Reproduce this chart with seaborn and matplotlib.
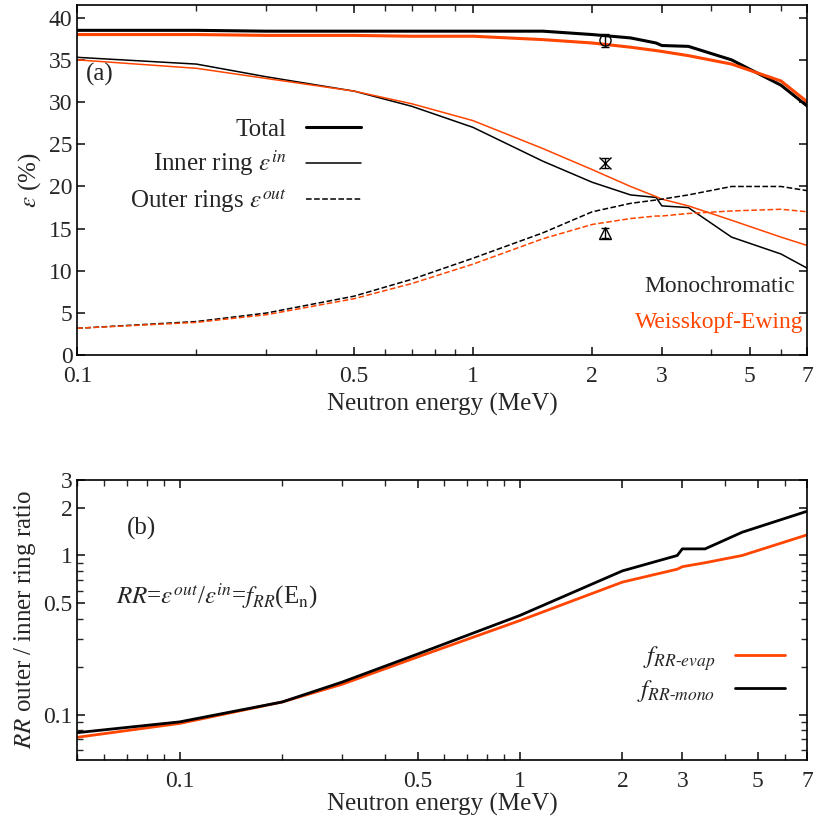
import matplotlib
matplotlib.use("Agg")
import matplotlib.pyplot as plt
import seaborn as sns
import numpy as np
from matplotlib.ticker import FixedLocator, NullFormatter, LogLocator

sns.set_theme(style="ticks", rc={"font.family": "Liberation Serif", "mathtext.fontset": "stix"})
plt.rcParams["font.size"] = 18

ORANGE = "#ff4500"

# panel (a) data
e_a = [0.1, 0.2, 0.3, 0.5, 0.7, 1.0, 1.5, 2.0, 2.5, 2.9, 3.0, 3.5, 4.5, 6.0, 7.0]
tot_mono = [38.5, 38.5, 38.4, 38.4, 38.4, 38.4, 38.4, 38.0, 37.6, 37.0, 36.7, 36.6, 35.0, 32.0, 29.5]
tot_we = [38.0, 38.0, 37.9, 37.9, 37.8, 37.8, 37.4, 37.0, 36.5, 36.1, 36.0, 35.5, 34.5, 32.5, 30.0]
in_mono = [35.3, 34.5, 33.0, 31.3, 29.5, 27.0, 23.0, 20.5, 19.0, 18.7, 17.7, 17.5, 14.0, 12.0, 10.3]
in_we = [35.0, 34.0, 32.8, 31.3, 29.8, 27.8, 24.5, 22.0, 20.0, 18.8, 18.5, 17.7, 16.0, 14.0, 13.0]
out_mono = [3.2, 4.0, 5.0, 7.0, 9.0, 11.5, 14.5, 17.0, 18.0, 18.4, 18.5, 19.0, 20.0, 20.0, 19.5]
out_we = [3.2, 3.9, 4.8, 6.7, 8.5, 10.8, 13.8, 15.5, 16.2, 16.5, 16.5, 16.8, 17.1, 17.3, 17.0]
meas_e = [2.15, 2.15, 2.15]
meas_v = [37.3, 22.8, 14.5]
meas_err = [0.8, 0.6, 0.6]
meas_mk = ["o", "x", "^"]

# panel (b) data
e_b = [0.05, 0.1, 0.2, 0.3, 0.5, 1.0, 2.0, 2.9, 3.0, 3.5, 4.5, 7.0]
rr_mono = [0.077, 0.09, 0.12, 0.16, 0.24, 0.42, 0.8, 1.0, 1.1, 1.1, 1.4, 1.9]
rr_we = [0.072, 0.088, 0.12, 0.155, 0.23, 0.39, 0.68, 0.82, 0.85, 0.9, 1.0, 1.35]

fig = plt.figure(figsize=(8.14, 8.34), dpi=100)
ax1 = fig.add_axes([0.095, 0.574, 0.897, 0.42])
ax2 = fig.add_axes([0.095, 0.089, 0.897, 0.336])

sns.lineplot(x=e_a, y=tot_mono, ax=ax1, color="black", lw=2.2, label="Total")
sns.lineplot(x=e_a, y=tot_we, ax=ax1, color=ORANGE, lw=2.2)
sns.lineplot(x=e_a, y=in_mono, ax=ax1, color="black", lw=1.1, label=r"Inner ring $\varepsilon^{in}$")
sns.lineplot(x=e_a, y=in_we, ax=ax1, color=ORANGE, lw=1.1)
sns.lineplot(x=e_a, y=out_mono, ax=ax1, color="black", lw=1.1, ls="--", label=r"Outer rings $\varepsilon^{out}$")
sns.lineplot(x=e_a, y=out_we, ax=ax1, color=ORANGE, lw=1.1, ls="--")
for x, y, er, m in zip(meas_e, meas_v, meas_err, meas_mk):
    ax1.errorbar(x, y, yerr=er, marker=m, mfc="none", mec="black", color="black", ms=8, capsize=3, lw=1)

ax1.set_xscale("log")
ax1.set_xlim(0.1, 7)
ax1.set_ylim(0, 41.5)
ax1.xaxis.set_major_locator(FixedLocator([0.1, 0.5, 1, 2, 3, 5, 7]))
ax1.set_xticklabels(["0.1", "0.5", "1", "2", "3", "5", "7"])
ax1.xaxis.set_minor_locator(LogLocator(subs=np.arange(2, 10)))
ax1.xaxis.set_minor_formatter(NullFormatter())
ax1.set_yticks(range(0, 41, 5))
ax1.set_xlabel("Neutron energy (MeV)", fontsize=18)
ax1.set_ylabel(r"$\varepsilon$ (%)", fontsize=18)
ax1.text(0.105, 32.5, "(a)", fontsize=18)
ax1.text(4.2, 7.5, "Monochromatic", fontsize=17, ha="center")
ax1.text(4.2, 3.2, "Weisskopf-Ewing", fontsize=17, ha="center", color=ORANGE)
leg = ax1.legend(loc="upper right", bbox_to_anchor=(0.42, 0.74), frameon=False, fontsize=18,
                 markerfirst=False, handlelength=2.2, labelspacing=0.3)
leg._legend_box.align = "right"

sns.lineplot(x=e_b, y=rr_we, ax=ax2, color=ORANGE, lw=2, label=r"$f_{RR\text{-}evap}$")
sns.lineplot(x=e_b, y=rr_mono, ax=ax2, color="black", lw=2, label=r"$f_{RR\text{-}mono}$")
ax2.set_xscale("log")
ax2.set_yscale("log")
ax2.set_xlim(0.05, 7)
ax2.set_ylim(0.052, 3)
ax2.xaxis.set_major_locator(FixedLocator([0.1, 0.5, 1, 2, 3, 5, 7]))
ax2.set_xticklabels(["0.1", "0.5", "1", "2", "3", "5", "7"])
ax2.xaxis.set_minor_locator(LogLocator(subs=np.arange(2, 10)))
ax2.xaxis.set_minor_formatter(NullFormatter())
ax2.yaxis.set_major_locator(FixedLocator([0.1, 0.5, 1, 2, 3]))
ax2.set_yticklabels(["0.1", "0.5", "1", "2", "3"])
ax2.yaxis.set_minor_locator(LogLocator(subs=np.arange(2, 10)))
ax2.yaxis.set_minor_formatter(NullFormatter())
ax2.set_xlabel("Neutron energy (MeV)", fontsize=18, labelpad=1)
ax2.set_ylabel(r"$RR$ outer / inner ring ratio", fontsize=18)
ax2.text(0.07, 1.35, "(b)", fontsize=18)
ax2.text(0.065, 0.5, r"$RR$=$\varepsilon^{out}$/$\varepsilon^{in}$=$f_{RR}$(E$_{\rm n}$)", fontsize=18)
ax2.legend(loc="lower right", bbox_to_anchor=(1.0, 0.12), frameon=False, fontsize=18,
           markerfirst=False, handlelength=2.0, labelspacing=0.2)

for ax in (ax1, ax2):
    ax.tick_params(which="both", direction="in", top=True, right=True, labelsize=17)
    ax.tick_params(axis="x", pad=8)
    for s in ax.spines.values():
        s.set_color("black")
        s.set_linewidth(1.2)

fig.savefig("out.png", dpi=100)
